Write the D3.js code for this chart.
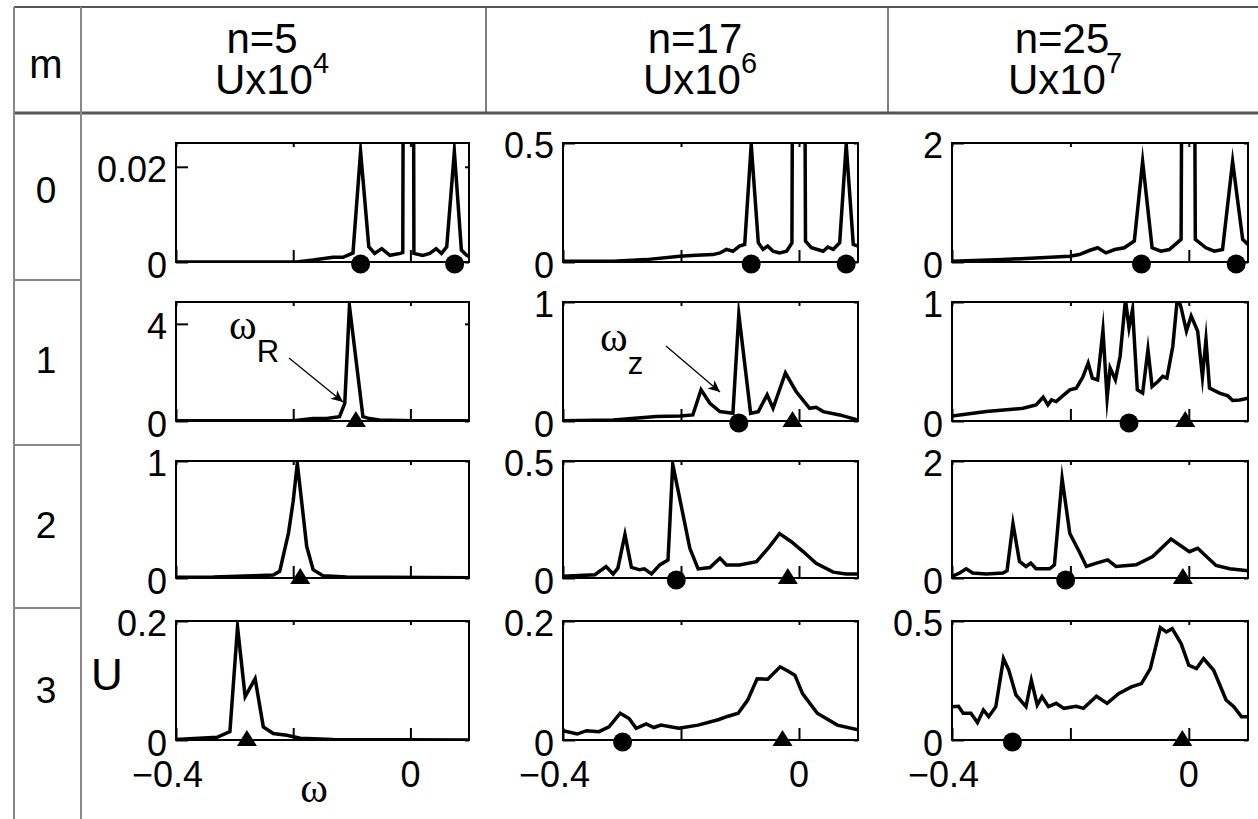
<!DOCTYPE html>
<html>
<head>
<meta charset="utf-8">
<script src="https://cdn.jsdelivr.net/npm/d3@7"></script>
<style>
  body { margin: 0; background: #fff; }
  svg { display: block; font-family: 'Liberation Sans', Arial, sans-serif; }
</style>
</head>
<body>
<svg id="chart" width="1258" height="819"></svg>
<script>
// column / row headers
const nLabels = ['n=5', 'n=17', 'n=25']
const uExp = ['4', '6', '7']
const mLabels = ['0', '1', '2', '3']

// axis limits and the one labelled y tick (besides 0) for each panel [row m][col n]
const yMax = [[0.025, 0.5, 2], [4.9, 1, 1], [1, 0.5, 2], [0.2, 0.2, 0.5]]
const yTick = [[0.02, 0.5, 2], [4, 1, 1], [1, 0.5, 2], [0.2, 0.2, 0.5]]
const omegaDomain = [-0.4, 0.1]
const omegaTicks = [-0.4, -0.2, 0]

// spectra (omega, U)
const w_m0_n5 = [-0.4, -0.194, -0.166, -0.132, -0.115, -0.098, -0.085, -0.071, -0.061, -0.049, -0.035, -0.017, -0.013, -0.003, 0.006, 0.021, 0.033, 0.044, 0.053, 0.062, 0.075, 0.087, 0.096, 0.1]
const u_m0_n5 = [0, 0, 0.0004, 0.001, 0.001, 0.0019, 0.0232, 0.0032, 0.0018, 0.0028, 0.0014, 0.0018, 0.002, 0.5, 0.0018, 0.0014, 0.0018, 0.0028, 0.0018, 0.0032, 0.0232, 0.0025, 0.0014, 0.0012]

const w_m0_n17 = [-0.4, -0.315, -0.259, -0.202, -0.174, -0.146, -0.134, -0.123, -0.112, -0.101, -0.092, -0.081, -0.069, -0.061, -0.053, -0.044, -0.033, -0.021, -0.012, -0.001, 0.011, 0.021, 0.041, 0.049, 0.058, 0.069, 0.080, 0.092, 0.1]
const u_m0_n17 = [0.003, 0.003, 0.010, 0.024, 0.028, 0.031, 0.038, 0.053, 0.045, 0.067, 0.074, 0.494, 0.081, 0.053, 0.067, 0.045, 0.038, 0.045, 0.08, 8, 0.088, 0.060, 0.045, 0.063, 0.053, 0.081, 0.494, 0.074, 0.067]

const w_m0_n25 = [-0.4, -0.314, -0.201, -0.185, -0.168, -0.154, -0.140, -0.125, -0.109, -0.092, -0.078, -0.062, -0.047, -0.033, -0.013, -0.001, 0.011, 0.029, 0.043, 0.057, 0.074, 0.091, 0.1]
const u_m0_n25 = [0.011, 0.04, 0.097, 0.125, 0.193, 0.239, 0.153, 0.21, 0.239, 0.352, 1.69, 0.239, 0.182, 0.21, 0.38, 30, 0.38, 0.239, 0.182, 0.21, 1.69, 0.38, 0.295]

const w_m1_n5 = [-0.4, -0.2, -0.166, -0.143, -0.121, -0.112, -0.104, -0.081, -0.070, -0.053, 0.004, 0.1]
const u_m1_n5 = [0.01, 0.01, 0.1, 0.1, 0.18, 0.73, 4.73, 0.18, 0.1, 0.04, 0.01, 0.01]

const w_m1_n17 = [-0.4, -0.315, -0.242, -0.202, -0.180, -0.166, -0.151, -0.134, -0.112, -0.102, -0.082, -0.069, -0.054, -0.044, -0.023, -0.005, 0.018, 0.029, 0.041, 0.069, 0.1]
const u_m1_n17 = [0.003, 0.008, 0.037, 0.042, 0.051, 0.262, 0.149, 0.079, 0.065, 0.896, 0.065, 0.079, 0.22, 0.107, 0.403, 0.248, 0.107, 0.115, 0.079, 0.051, 0.008]

const w_m1_n25 = [-0.4, -0.342, -0.28, -0.258, -0.246, -0.238, -0.232, -0.224, -0.213, -0.201, -0.19, -0.179, -0.170, -0.163, -0.154, -0.145, -0.138, -0.133, -0.124, -0.116, -0.107, -0.101, -0.095, -0.087, -0.078, -0.069, -0.062, -0.052, -0.044, -0.037, -0.027, -0.019, -0.013, -0.004, 0.004, 0.015, 0.023, 0.029, 0.035, 0.052, 0.066, 0.074, 0.086, 0.1]
const u_m1_n25 = [0.042, 0.079, 0.107, 0.135, 0.2, 0.135, 0.177, 0.163, 0.211, 0.262, 0.276, 0.369, 0.487, 0.361, 0.346, 0.763, 0.192, 0.445, 0.346, 0.544, 1.02, 0.783, 0.938, 0.262, 0.234, 0.6, 0.29, 0.332, 0.375, 0.361, 0.628, 1.05, 0.952, 0.755, 0.882, 0.755, 0.369, 0.684, 0.276, 0.234, 0.211, 0.172, 0.177, 0.192]

const w_m2_n5 = [-0.4, -0.336, -0.268, -0.234, -0.223, -0.208, -0.2, -0.193, -0.186, -0.177, -0.166, -0.149, -0.109, 0.1]
const u_m2_n5 = [0.006, 0.009, 0.02, 0.026, 0.057, 0.386, 0.657, 0.98, 0.671, 0.271, 0.071, 0.02, 0.009, 0.003]

const w_m2_n17 = [-0.4, -0.346, -0.327, -0.315, -0.307, -0.295, -0.284, -0.270, -0.262, -0.250, -0.236, -0.222, -0.214, -0.202, -0.185, -0.171, -0.151, -0.134, -0.123, -0.101, -0.072, -0.05, -0.033, -0.013, 0.007, 0.029, 0.058, 0.08, 0.1]
const u_m2_n17 = [0.007, 0.014, 0.049, 0.017, 0.042, 0.186, 0.045, 0.035, 0.039, 0.017, 0.056, 0.077, 0.486, 0.338, 0.127, 0.039, 0.045, 0.085, 0.056, 0.056, 0.07, 0.134, 0.19, 0.155, 0.113, 0.063, 0.025, 0.017, 0.017]

const w_m2_n25 = [-0.4, -0.387, -0.376, -0.365, -0.342, -0.314, -0.307, -0.297, -0.286, -0.275, -0.267, -0.258, -0.235, -0.227, -0.214, -0.201, -0.185, -0.173, -0.156, -0.137, -0.123, -0.089, -0.061, -0.03, 0.001, 0.015, 0.046, 0.069, 0.1]
const u_m2_n25 = [0.028, 0.085, 0.158, 0.085, 0.068, 0.085, 0.124, 0.93, 0.282, 0.197, 0.254, 0.158, 0.158, 0.225, 1.70, 0.76, 0.45, 0.197, 0.254, 0.31, 0.197, 0.225, 0.366, 0.665, 0.45, 0.507, 0.214, 0.158, 0.124]

const w_m3_n5 = [-0.4, -0.330, -0.308, -0.295, -0.282, -0.265, -0.251, -0.234, -0.211, -0.188, -0.132, 0.1]
const u_m3_n5 = [0.001, 0.0045, 0.014, 0.19, 0.073, 0.103, 0.022, 0.011, 0.008, 0.003, 0.001, 0]

const w_m3_n17 = [-0.4, -0.376, -0.360, -0.339, -0.322, -0.303, -0.288, -0.276, -0.259, -0.246, -0.234, -0.204, -0.171, -0.137, -0.120, -0.103, -0.087, -0.071, -0.053, -0.032, -0.019, -0.007, 0.006, 0.031, 0.065, 0.1]
const u_m3_n17 = [0.0156, 0.010, 0.0156, 0.014, 0.022, 0.045, 0.036, 0.0196, 0.027, 0.021, 0.025, 0.0196, 0.025, 0.034, 0.040, 0.045, 0.067, 0.103, 0.102, 0.123, 0.116, 0.109, 0.078, 0.045, 0.025, 0.017]

const w_m3_n25 = [-0.4, -0.389, -0.381, -0.368, -0.357, -0.347, -0.338, -0.326, -0.313, -0.304, -0.292, -0.275, -0.266, -0.256, -0.248, -0.237, -0.224, -0.211, -0.190, -0.178, -0.156, -0.138, -0.118, -0.097, -0.080, -0.065, -0.048, -0.038, -0.028, -0.013, 0.000, 0.013, 0.025, 0.042, 0.063, 0.076, 0.089, 0.1]
const u_m3_n25 = [0.14, 0.142, 0.112, 0.112, 0.073, 0.126, 0.098, 0.14, 0.342, 0.293, 0.189, 0.14, 0.251, 0.147, 0.182, 0.14, 0.154, 0.133, 0.142, 0.133, 0.184, 0.154, 0.196, 0.223, 0.237, 0.300, 0.472, 0.454, 0.468, 0.405, 0.314, 0.300, 0.342, 0.293, 0.168, 0.14, 0.098, 0.098]

// marker positions on the omega axis: circles and triangles
const circles = [[[-0.085, 0.0755], [-0.081, 0.080], [-0.080, 0.080]],
                 [[], [-0.102], [-0.101]],
                 [[], [-0.208], [-0.208]],
                 [[], [-0.299], [-0.298]]]
const triangles = [[[], [], []],
                   [[-0.093], [-0.011], [-0.006]],
                   [[-0.188], [-0.019], [-0.010]],
                   [[-0.279], [-0.028], [-0.011]]]

const spectra = [
  [[w_m0_n5, u_m0_n5], [w_m0_n17, u_m0_n17], [w_m0_n25, u_m0_n25]],
  [[w_m1_n5, u_m1_n5], [w_m1_n17, u_m1_n17], [w_m1_n25, u_m1_n25]],
  [[w_m2_n5, u_m2_n5], [w_m2_n17, u_m2_n17], [w_m2_n25, u_m2_n25]],
  [[w_m3_n5, u_m3_n5], [w_m3_n17, u_m3_n17], [w_m3_n25, u_m3_n25]]
]

// layout
const colX = [176, 563, 952]
const colW = [293, 295, 296]
const rowY = [143, 302, 461, 621]
const rowH = [119, 119, 117, 119]
const tickFont = 36

let svg = d3.select('#chart')

// ---- table grid ----
let grid = svg.append('g').attr('stroke', '#555').attr('fill', 'none')
grid.append('line').attr('x1', 14).attr('x2', 1258).attr('y1', 7).attr('y2', 7).attr('stroke-width', 2)
grid.append('line').attr('x1', 14).attr('x2', 1258).attr('y1', 113).attr('y2', 113).attr('stroke-width', 3)
grid.append('line').attr('x1', 14).attr('x2', 14).attr('y1', 7).attr('y2', 819).attr('stroke-width', 2).attr('stroke', '#888')
grid.append('line').attr('x1', 81).attr('x2', 81).attr('y1', 7).attr('y2', 819).attr('stroke-width', 2).attr('stroke', '#888')
grid.append('line').attr('x1', 486).attr('x2', 486).attr('y1', 7).attr('y2', 113).attr('stroke-width', 1.5)
grid.append('line').attr('x1', 888).attr('x2', 888).attr('y1', 7).attr('y2', 113).attr('stroke-width', 1.5)
let rowSep = [280, 445, 608]
rowSep.forEach(yy => {
  grid.append('line').attr('x1', 14).attr('x2', 81).attr('y1', yy).attr('y2', yy).attr('stroke-width', 2).attr('stroke', '#888')
})

// ---- headers ----
svg.append('text').attr('x', 46).attr('y', 78).attr('text-anchor', 'middle')
  .attr('font-size', 40).text('m')

let nX = [262, 695, 1062]
let uX = [272, 700, 1065]
nLabels.forEach((lab, i) => {
  svg.append('text').attr('x', nX[i]).attr('y', 53).attr('text-anchor', 'middle')
    .attr('font-size', 42).text(lab)
  let t = svg.append('text').attr('x', uX[i]).attr('y', 94).attr('text-anchor', 'middle')
    .attr('font-size', 42)
  t.append('tspan').text('Ux10')
  t.append('tspan').attr('dy', -21).attr('font-size', 29).text(uExp[i])
})

let rowLabelY = [190, 360, 525, 690]
mLabels.forEach((lab, i) => {
  svg.append('text').attr('x', 46).attr('y', rowLabelY[i] + 13).attr('text-anchor', 'middle')
    .attr('font-size', 37).text(lab)
})

// ---- panels ----
const fmtY = v => v === 0 ? '0' : String(v)
const fmtX = v => v === 0 ? '0' : '\u2212' + String(Math.abs(v))

for (let r = 0; r < 4; r++) {
  for (let c = 0; c < 3; c++) {
    let w = colW[c], h = rowH[r]
    let g = svg.append('g').attr('transform', `translate(${colX[c]},${rowY[r]})`)
    let x = d3.scaleLinear().domain(omegaDomain).range([0, w])
    let y = d3.scaleLinear().domain([0, yMax[r][c]]).range([h, 0])

    let clipId = `clip-${r}-${c}`
    g.append('clipPath').attr('id', clipId)
      .append('rect').attr('x', 0).attr('y', 0).attr('width', w).attr('height', h)

    // inner ticks, MATLAB style
    let noLab = () => ''
    g.append('g').attr('transform', `translate(0,${h})`)
      .call(d3.axisBottom(x).tickValues(omegaTicks).tickSizeInner(-12).tickSizeOuter(0).tickFormat(noLab))
    g.append('g')
      .call(d3.axisTop(x).tickValues(omegaTicks).tickSizeInner(-4).tickSizeOuter(0).tickFormat(noLab))
    g.append('g')
      .call(d3.axisLeft(y).tickValues([0, yTick[r][c]]).tickSizeInner(-12).tickSizeOuter(0).tickFormat(noLab))
    g.append('g').attr('transform', `translate(${w},0)`)
      .call(d3.axisRight(y).tickValues([0, yTick[r][c]]).tickSizeInner(-4).tickSizeOuter(0).tickFormat(noLab))
    g.selectAll('.domain').remove()
    g.selectAll('.tick line').attr('stroke', '#000').attr('stroke-width', 2)

    // y tick labels
    ;[0, yTick[r][c]].forEach(v => {
      g.append('text').attr('x', -9).attr('y', y(v) + (v === 0 ? 16 : 15))
        .attr('text-anchor', 'end').attr('font-size', tickFont).text(fmtY(v))
    })

    // x tick labels on the bottom row
    if (r === 3) {
      omegaTicks.filter(v => v !== -0.2).forEach(v => {
        g.append('text')
          .attr('x', v === 0 ? x(v) : x(v) + 27)
          .attr('y', h + 47)
          .attr('text-anchor', v === 0 ? 'middle' : 'end')
          .attr('font-size', tickFont).text(fmtX(v))
      })
    }

    // spectrum line
    let [ws, us] = spectra[r][c]
    let pts = ws.map((wv, i) => [wv, us[i]])
    let line = d3.line().x(d => x(d[0])).y(d => y(d[1]))
    g.append('path').datum(pts)
      .attr('clip-path', `url(#${clipId})`)
      .attr('fill', 'none').attr('stroke', '#000').attr('stroke-width', 3.5)
      .attr('stroke-linejoin', 'miter').attr('stroke-miterlimit', 20)
      .attr('d', line)

    // box
    g.append('rect').attr('x', 0).attr('y', 0).attr('width', w).attr('height', h)
      .attr('fill', 'none').attr('stroke', '#000').attr('stroke-width', 2)

    // markers
    circles[r][c].forEach(v => {
      g.append('circle').attr('cx', x(v)).attr('cy', y(0) + 2).attr('r', 9.5).attr('fill', '#000')
    })
    triangles[r][c].forEach(v => {
      let cx = x(v), cy = y(0)
      g.append('path').attr('d', `M${cx - 10},${cy + 6}L${cx + 10},${cy + 6}L${cx},${cy - 10}Z`).attr('fill', '#000')
    })
  }
}

// ---- axis names ----
svg.append('text').attr('x', 107).attr('y', 690).attr('text-anchor', 'middle')
  .attr('font-size', 44).text('U')
svg.append('text').attr('x', 314).attr('y', 802).attr('text-anchor', 'middle')
  .attr('font-family', "'Liberation Serif', serif").attr('font-size', 42).text('ω')

// ---- annotations ----
let defs = svg.append('defs')
defs.append('marker').attr('id', 'arrow').attr('viewBox', '0 0 12 12')
  .attr('refX', 11).attr('refY', 6).attr('markerWidth', 13).attr('markerHeight', 13)
  .attr('markerUnits', 'userSpaceOnUse').attr('orient', 'auto')
  .append('path').attr('d', 'M0,1L11,6L0,11L3,6Z').attr('fill', '#000')

function annotate(sym, sub, tx, ty, x1, y1, x2, y2) {
  let t = svg.append('text').attr('x', tx).attr('y', ty)
  t.append('tspan').attr('font-family', "'Liberation Serif', serif").attr('font-size', 42).text(sym)
  t.append('tspan').attr('dy', 23).attr('font-size', 31).text(sub)
  svg.append('line').attr('x1', x1).attr('y1', y1).attr('x2', x2).attr('y2', y2)
    .attr('stroke', '#000').attr('stroke-width', 1.3).attr('marker-end', 'url(#arrow)')
}
annotate('ω', 'R', 229, 339, 289, 358, 343, 402)
annotate('ω', 'z', 600, 351, 666, 346, 720, 392)
</script>
</body>
</html>
